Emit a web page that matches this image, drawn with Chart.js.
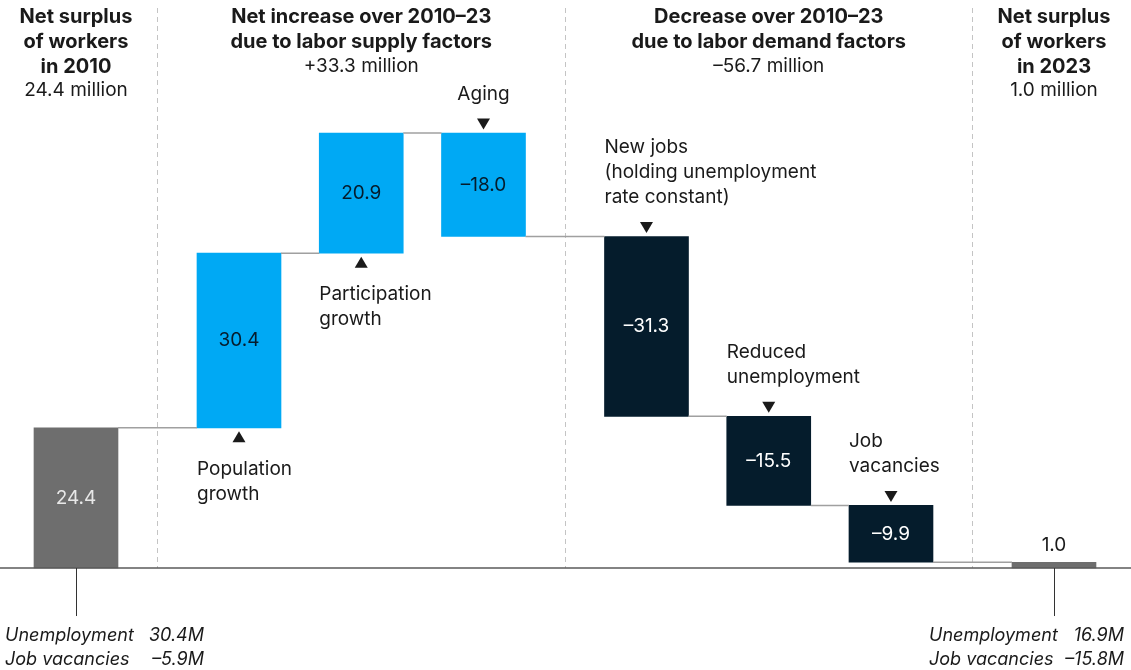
<!DOCTYPE html>
<html>
<head>
<meta charset="utf-8">
<script src="https://cdn.jsdelivr.net/npm/chart.js@4"></script>
<style>
  html, body { margin: 0; padding: 0; background: #fff; }
  #wrap { width: 1131px; height: 670px; position: relative; }
</style>
</head>
<body>
<div id="wrap"><canvas id="chart"></canvas></div>
<script>
// waterfall steps, millions of workers
const steps = ["Net surplus 2010", "Population growth", "Participation growth", "Aging",
  "New jobs", "Reduced unemployment", "Job vacancies", "Net surplus 2023"];
const changes = [24.4, 30.4, 20.9, -18.0, -31.3, -15.5, -9.9, 1.0];
const kinds = ["total", "supply", "supply", "supply", "demand", "demand", "demand", "total"];
// slot index on the x axis (groups are spaced apart)
const slots = [0, 4, 7, 10, 14, 17, 20, 24];
const separatorSlots = [2, 12, 22];

const notes = [null, ["Population", "growth"], ["Participation", "growth"], ["Aging"],
  ["New jobs", "(holding unemployment", "rate constant)"], ["Reduced", "unemployment"],
  ["Job", "vacancies"], null];

const headers = [
  { slot: 0, bold: ["Net surplus", "of workers", "in 2010"], sub: "24.4 million" },
  { slot: 7, bold: ["Net increase over 2010\u201323", "due to labor supply factors"], sub: "+33.3 million" },
  { slot: 17, bold: ["Decrease over 2010\u201323", "due to labor demand factors"], sub: "\u201356.7 million" },
  { slot: 24, bold: ["Net surplus", "of workers", "in 2023"], sub: "1.0 million" }
];

const startBreakdown = [["Unemployment", "30.4M"], ["Job vacancies", "\u20135.9M"]];
const endBreakdown = [["Unemployment", "16.9M"], ["Job vacancies", "\u201315.8M"]];

const colors = { total: "#6e6e6e", supply: "#00a9f4", demand: "#051c2c" };
const textColors = { total: "#e8e8e8", supply: "#051c2c", demand: "#ffffff" };
const FONT = "Inter, 'Liberation Sans', sans-serif";

// floating ranges for each bar
const ranges = [];
let running = 0;
changes.forEach((c, i) => {
  if (kinds[i] === "total") {
    ranges.push([0, c]);
    running = c;
  } else {
    ranges.push([running, running + c]);
    running += c;
  }
});

const fmt = (v) => (v < 0 ? "\u2013" : "") + Math.abs(v).toFixed(1);

const decorations = {
  id: "decorations",
  afterDatasetsDraw(chart) {
    const { ctx, scales: { x, y }, chartArea } = chart;
    const meta = chart.getDatasetMeta(0);
    const zero = y.getPixelForValue(0);
    ctx.save();

    // dashed group separators
    ctx.strokeStyle = "#c4c4c4";
    ctx.lineWidth = 1;
    ctx.setLineDash([5, 4]);
    separatorSlots.forEach((s) => {
      const px = Math.round(x.getPixelForValue(s)) + 0.5;
      ctx.beginPath();
      ctx.moveTo(px, 8);
      ctx.lineTo(px, zero);
      ctx.stroke();
    });
    ctx.setLineDash([]);

    // connectors between bars
    ctx.strokeStyle = "#a0a0a0";
    ctx.lineWidth = 1.5;
    for (let i = 0; i < meta.data.length - 1; i++) {
      const a = meta.data[i], b = meta.data[i + 1];
      const level = ranges[i][1];
      const py = y.getPixelForValue(level);
      ctx.beginPath();
      ctx.moveTo(a.x + a.width / 2, py);
      ctx.lineTo(b.x - b.width / 2, py);
      ctx.stroke();
    }

    // baseline
    ctx.strokeStyle = "#5a5a5a";
    ctx.lineWidth = 1.5;
    ctx.beginPath();
    ctx.moveTo(chartArea.left, zero);
    ctx.lineTo(chartArea.right, zero);
    ctx.stroke();

    // ticks under the two totals
    ctx.strokeStyle = "#333";
    ctx.lineWidth = 1;
    [0, meta.data.length - 1].forEach((i) => {
      const px = Math.round(meta.data[i].x) + 0.5;
      ctx.beginPath();
      ctx.moveTo(px, zero);
      ctx.lineTo(px, zero + 48);
      ctx.stroke();
    });

    // value labels
    ctx.textBaseline = "middle";
    ctx.textAlign = "center";
    ctx.font = "19px " + FONT;
    meta.data.forEach((bar, i) => {
      const top = Math.min(bar.y, bar.base), bottom = Math.max(bar.y, bar.base);
      if (bottom - top > 30) {
        ctx.fillStyle = textColors[kinds[i]];
        ctx.fillText(fmt(changes[i]), bar.x, (top + bottom) / 2);
      } else {
        ctx.fillStyle = "#1a1a1a";
        ctx.fillText(fmt(changes[i]), bar.x, top - 17);
      }
    });

    // annotations with arrows
    const tri = (cx, cy, up) => {
      ctx.beginPath();
      if (up) {
        ctx.moveTo(cx - 6.5, cy + 5.5); ctx.lineTo(cx + 6.5, cy + 5.5); ctx.lineTo(cx, cy - 5.5);
      } else {
        ctx.moveTo(cx - 6.5, cy - 5.5); ctx.lineTo(cx + 6.5, cy - 5.5); ctx.lineTo(cx, cy + 5.5);
      }
      ctx.closePath();
      ctx.fill();
    };
    ctx.fillStyle = "#1a1a1a";
    notes.forEach((lines, i) => {
      if (!lines) return;
      const bar = meta.data[i];
      const left = bar.x - bar.width / 2;
      const top = Math.min(bar.y, bar.base), bottom = Math.max(bar.y, bar.base);
      const lh = 25;
      if (changes[i] > 0) {
        tri(bar.x, bottom + 9, true);
        ctx.textAlign = "left";
        lines.forEach((t, k) => ctx.fillText(t, left, bottom + 41 + k * lh));
      } else {
        tri(bar.x, top - 9, false);
        const single = lines.length === 1;
        ctx.textAlign = single ? "center" : "left";
        const tx = single ? bar.x : left;
        lines.forEach((t, k) => ctx.fillText(t, tx, top - 39 - (lines.length - 1 - k) * lh));
      }
    });

    // group headers
    ctx.textAlign = "center";
    headers.forEach((h) => {
      const cx = x.getPixelForValue(h.slot);
      ctx.font = "bold 20px " + FONT;
      h.bold.forEach((t, k) => ctx.fillText(t, cx, 17 + k * 25));
      ctx.font = "19px " + FONT;
      ctx.fillText(h.sub, cx, 17 + h.bold.length * 24.5);
    });

    // breakdown of the two totals
    ctx.font = "italic 18px " + FONT;
    const drawBreakdown = (rows, labelX, valueX) => {
      rows.forEach((r, k) => {
        const py = 636 + k * 24;
        ctx.textAlign = "left";
        ctx.fillText(r[0], labelX, py);
        ctx.textAlign = "right";
        ctx.fillText(r[1], valueX, py);
      });
    };
    drawBreakdown(startBreakdown, 5, 204);
    drawBreakdown(endBreakdown, 929, 1124);

    ctx.restore();
  }
};

new Chart(document.getElementById("chart"), {
  type: "bar",
  data: {
    datasets: [{
      label: "Net surplus of workers",
      data: ranges.map((r, i) => ({ x: slots[i], y: r })),
      backgroundColor: kinds.map((k) => colors[k]),
      borderWidth: 0,
      barThickness: 84
    }]
  },
  options: {
    responsive: true,
    maintainAspectRatio: false,
    animation: false,
    layout: { padding: 0 },
    plugins: { legend: { display: false }, tooltip: { enabled: false } },
    scales: {
      x: { type: "linear", min: -1.865, max: 25.89, offset: false, display: false },
      y: { min: -17.75, max: 98.87, display: false }
    }
  },
  plugins: [decorations]
});
</script>
</body>
</html>
